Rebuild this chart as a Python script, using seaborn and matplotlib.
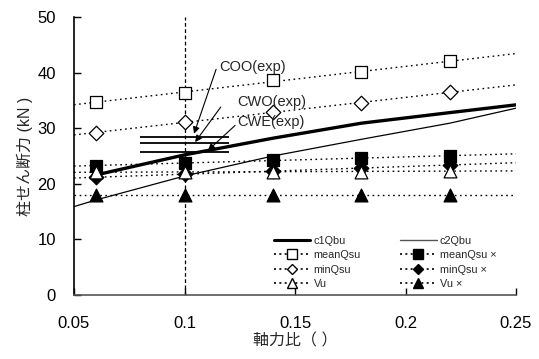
import numpy as np
import pandas as pd
import matplotlib
matplotlib.use("Agg")
import matplotlib.pyplot as plt
from matplotlib.lines import Line2D
import seaborn as sns

# ---- data ----
x_pts = [0.06, 0.10, 0.14, 0.18, 0.22]
meanQsu = [34.7, 36.3, 38.7, 40.1, 42.0]
minQsu = [29.2, 31.1, 32.9, 34.5, 36.5]
Vu = [22.1, 22.1, 22.2, 22.2, 22.3]
meanQsu_x = [23.2, 23.8, 24.3, 24.6, 25.0]
minQsu_x = [21.2, 21.7, 22.3, 22.8, 23.4]
Vu_x = [18.0, 18.0, 18.0, 18.0, 18.0]

c1_x = [0.06, 0.10, 0.14, 0.18, 0.22, 0.25]
c1Qbu = [21.6, 25.2, 28.2, 30.9, 32.8, 34.2]
c2_x = [0.05, 0.06, 0.10, 0.14, 0.18, 0.22, 0.25]
c2Qbu = [15.9, 17.1, 21.4, 25.0, 28.0, 30.9, 33.6]

exp_labels = ["COO(exp)", "CWO(exp)", "CWE(exp)"]
exp_values = [28.5, 27.3, 25.8]
exp_xrange = [0.08, 0.12]
exp_text_xy = [(0.1156, 41.0), (0.1238, 34.7), (0.1238, 31.1)]
exp_tail_xy = [(0.1143, 40.6), (0.1164, 33.8), (0.1229, 30.5)]
exp_head_xy = [(0.1043, 29.0), (0.1048, 27.5), (0.1106, 26.0)]

x_ticks = [0.05, 0.10, 0.15, 0.20, 0.25]
x_tick_labels = ["0.05", "0.1", "0.15", "0.2", "0.25"]
y_ticks = [0, 10, 20, 30, 40, 50]

# ---- style ----
sns.set_theme(style="ticks")
plt.rcParams['font.family'] = ['Liberation Sans', 'Noto Sans CJK JP', 'DejaVu Sans']

fig = plt.figure(figsize=(5.39, 3.59), dpi=100)
ax = fig.add_axes([74 / 539, 1 - 295 / 359, (516 - 74) / 539, (295 - 17) / 359])
ax.set_xlim(0.05, 0.25)
ax.set_ylim(0, 50)

# vertical reference line
ax.axvline(0.10, color="black", lw=0.9, ls=(0, (3, 2)), zorder=1)

# drawing order: filled markers first, open markers on top
series = [
    (meanQsu_x, "s", "black"),
    (minQsu_x, "D", "black"),
    (Vu_x, "^", "black"),
    (meanQsu, "s", "white"),
    (minQsu, "D", "white"),
    (Vu, "^", "white"),
]
for vals, mk, fc in series:
    sns.regplot(x=x_pts, y=vals, ax=ax, scatter=False, ci=None, truncate=False,
                line_kws=dict(color="black", lw=1.0, ls=(0, (1.2, 2.5))))

# capacity curves
sns.lineplot(x=c2_x, y=c2Qbu, ax=ax, color="black", lw=0.9, zorder=3)
sns.lineplot(x=c1_x, y=c1Qbu, ax=ax, color="black", lw=2.4, zorder=3)

# markers
msizes = {"s": 80, "D": 55, "^": 85}
for i, (vals, mk, fc) in enumerate(series):
    sns.scatterplot(x=x_pts, y=vals, ax=ax, marker=mk, s=msizes[mk],
                    facecolor=fc, edgecolor="black", linewidth=0.9, zorder=4 + i * 0.1,
                    legend=False)

# experimental values
for v in exp_values:
    ax.hlines(v, exp_xrange[0], exp_xrange[1], color="black", lw=1.3, zorder=3)
for lab, txy, tail, head in zip(exp_labels, exp_text_xy, exp_tail_xy, exp_head_xy):
    ax.text(txy[0], txy[1], lab, fontsize=10.5, va="center", ha="left", zorder=5)
    ax.annotate("", xy=head, xytext=tail,
                arrowprops=dict(arrowstyle="-|>", color="black", lw=0.8,
                                mutation_scale=10, shrinkA=0, shrinkB=0), zorder=5)

ax.set_xlim(0.05, 0.25)
ax.set_ylim(0, 50)
ax.set_xticks(x_ticks)
ax.set_xticklabels(x_tick_labels)
ax.set_yticks(y_ticks)
ax.tick_params(axis="both", direction="in", length=5, width=1, labelsize=12,
               colors="black")
ax.tick_params(axis="x", pad=15)
ax.tick_params(axis="y", pad=13)
for s in ["top", "right"]:
    ax.spines[s].set_visible(False)
ax.spines["left"].set_color("black")
ax.spines["bottom"].set_color("#555555")
ax.spines["left"].set_linewidth(1.2)
ax.spines["bottom"].set_linewidth(1.2)

ax.set_xlabel("軸力比（ ）", fontsize=11.5, labelpad=2)
ax.set_ylabel("柱せん断力 (kN )", fontsize=11.5, labelpad=3)

# legend
dot = (0, (1.2, 2.0))
handles = [
    Line2D([], [], color="black", lw=2.2, label="c1Qbu"),
    Line2D([], [], color="black", lw=1.2, ls=dot, marker="s", mfc="white", mec="black", ms=6.5, label="meanQsu"),
    Line2D([], [], color="black", lw=1.2, ls=dot, marker="D", mfc="white", mec="black", ms=5.5, label="minQsu"),
    Line2D([], [], color="black", lw=1.2, ls=dot, marker="^", mfc="white", mec="black", ms=6.5, label="Vu"),
    Line2D([], [], color="#555555", lw=1.0, label="c2Qbu"),
    Line2D([], [], color="black", lw=1.2, ls=dot, marker="s", mfc="black", mec="black", ms=6.5, label="meanQsu ×"),
    Line2D([], [], color="black", lw=1.2, ls=dot, marker="D", mfc="black", mec="black", ms=5.5, label="minQsu ×"),
    Line2D([], [], color="black", lw=1.2, ls=dot, marker="^", mfc="black", mec="black", ms=6.5, label="Vu ×"),
]
leg = ax.legend(handles=handles, ncol=2, loc="upper left",
                bbox_to_anchor=((266 - 74) / (516 - 74), (295 - 228) / (295 - 17)),
                frameon=False, fontsize=7.8, handlelength=3.4, handletextpad=0.3,
                columnspacing=3.6, labelspacing=0.42, borderpad=0.2)

fig.savefig("out.png", dpi=100)
